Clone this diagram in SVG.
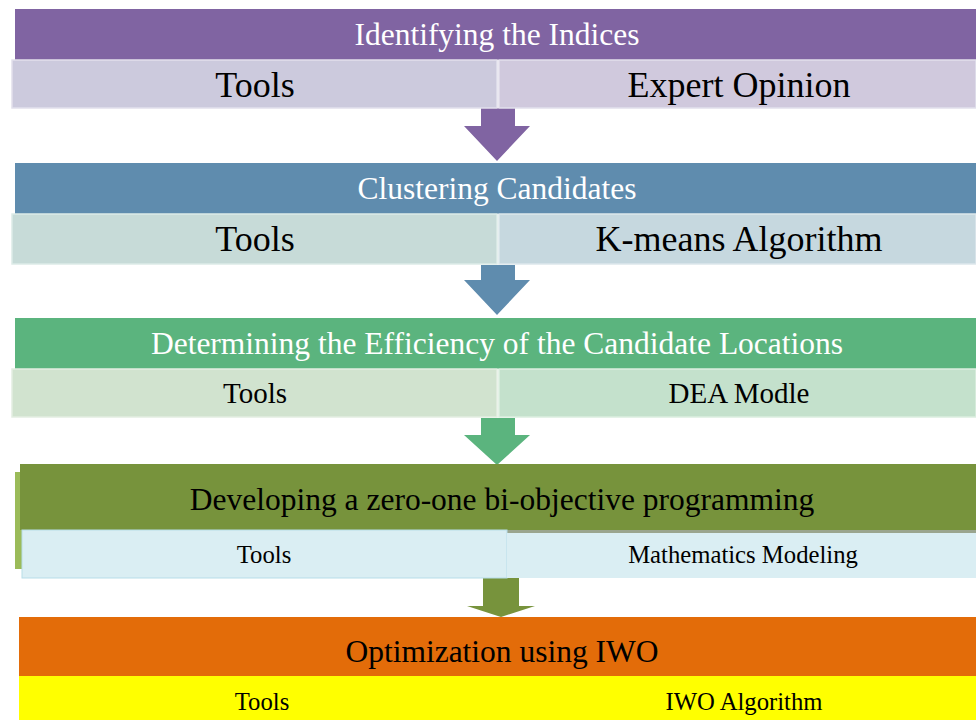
<svg xmlns="http://www.w3.org/2000/svg" width="976" height="720" viewBox="0 0 976 720">
<style>
text{font-family:"Liberation Serif","Times New Roman",serif;text-anchor:middle}
.hw{fill:#fff;font-size:31.5px}
.hb{fill:#000;font-size:31.5px}
.big{font-size:36px;fill:#000}
.mid{font-size:29px;fill:#000}
.sm{font-size:24.7px;fill:#000}
</style>
<rect width="976" height="720" fill="#fff"/>
<g id="connectors">
<polygon points="481,108 515,108 515,126 530,126 497,161 464,126 481,126" fill="#8064A2"/>
<polygon points="481,265 515,265 515,280 530,280 497,315 464,280 481,280" fill="#5F8CAE"/>
<polygon points="481,418 515,418 515,435 530,435 497,465 464,435 481,435" fill="#5BB47E"/>
<polygon points="483,578 519,578 519,606 535,606 501,617 467,606 483,606" fill="#77933C"/>
</g>
<g id="step1">
<rect x="15" y="9" width="961" height="51" fill="#8064A2"/>
<text class="hw" x="497" y="45">Identifying the Indices</text>
</g>
<g id="step1-tools">
<rect x="12" y="60" width="485" height="48" fill="#CCCADD" stroke="#E2E0EC" stroke-width="1.5"/>
<text class="big" x="255" y="97">Tools</text>
</g>
<g id="step1-method">
<rect x="499" y="60" width="477" height="48" fill="#D0C9DD" stroke="#E2E0EC" stroke-width="1.5"/>
<text class="big" x="739" y="97">Expert Opinion</text>
</g>
<g id="step2">
<rect x="15" y="163" width="961" height="51" fill="#5F8CAE"/>
<text class="hw" x="497" y="199">Clustering Candidates</text>
</g>
<g id="step2-tools">
<rect x="12" y="214" width="485" height="50" fill="#C7DBD8" stroke="#DDEBE8" stroke-width="1.5"/>
<text class="big" x="255" y="251">Tools</text>
</g>
<g id="step2-method">
<rect x="499" y="214" width="477" height="50" fill="#C6D8DF" stroke="#DDE7EC" stroke-width="1.5"/>
<text class="big" x="739" y="251">K-means Algorithm</text>
</g>
<g id="step3">
<rect x="15" y="318" width="961" height="51" fill="#5BB47E"/>
<text class="hw" x="497" y="354">Determining the Efficiency of the Candidate Locations</text>
</g>
<g id="step3-tools">
<rect x="12" y="369" width="485" height="48" fill="#D1E3CF" stroke="#E3EEE2" stroke-width="1.5"/>
<text class="mid" x="255" y="403">Tools</text>
</g>
<g id="step3-method">
<rect x="499" y="369" width="477" height="48" fill="#C4E1CC" stroke="#DCEEE0" stroke-width="1.5"/>
<text class="mid" x="739" y="403">DEA Modle</text>
</g>
<g id="step4">
<rect x="15" y="472" width="8" height="97" fill="#9BBB59"/>
<rect x="20" y="464" width="956" height="66" fill="#77933C"/>
<rect x="507" y="530" width="469" height="4" fill="#9AA58E"/>
<text class="hb" x="502" y="510">Developing a zero-one bi-objective programming</text>
</g>
<g id="step4-tools">
<rect x="22" y="530" width="485" height="48" fill="#DAEEF3" stroke="#B7DDE8" stroke-width="1"/>
<text class="sm" x="264" y="563">Tools</text>
</g>
<g id="step4-method">
<rect x="507" y="533" width="469" height="45" fill="#DAEEF3"/>
<text class="sm" x="743" y="563">Mathematics Modeling</text>
</g>
<g id="step5">
<rect x="19" y="617" width="957" height="59" fill="#E36C09"/>
<text class="hb" x="502" y="662">Optimization using IWO</text>
</g>
<g id="step5-tools">
<rect x="19" y="676" width="488" height="44" fill="#FFFF00"/>
<text class="sm" x="262" y="710">Tools</text>
</g>
<g id="step5-method">
<rect x="507" y="676" width="469" height="44" fill="#FFFF00"/>
<text class="sm" x="744" y="710">IWO Algorithm</text>
</g>
</svg>
